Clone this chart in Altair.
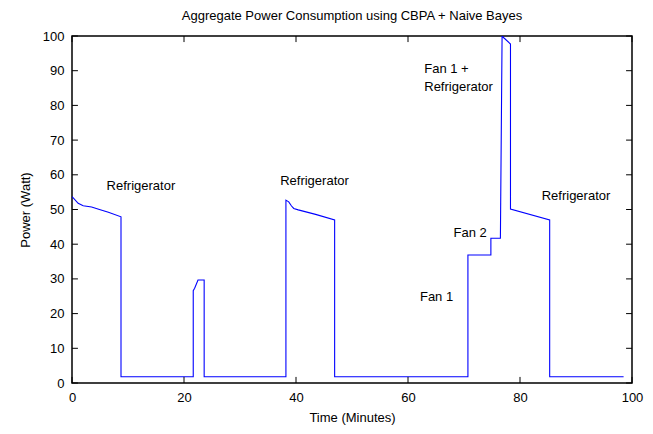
import altair as alt
import pandas as pd

# Line data (time in minutes, power in watts)
time_min = [0, 0.3, 1.1, 2.0, 3.5, 4.9, 6.5, 8.75, 8.75, 21.65, 21.65, 21.9, 22.5, 23.6, 23.6,
            38.2, 38.2, 38.7, 39.2, 39.6, 40.4, 43.5, 46.9, 46.9, 70.7, 70.7, 74.8, 74.8,
            76.5, 76.8, 77.1, 78.3, 78.3, 85.3, 85.3, 98.5]
power_w = [53.7, 53.2, 51.8, 51.1, 50.7, 50.0, 49.2, 47.9, 1.8, 1.8, 26.6, 27.3, 29.7, 29.7, 1.8,
           1.8, 52.7, 52.2, 51.0, 50.3, 49.9, 48.6, 47.0, 1.8, 1.8, 36.9, 36.9, 41.7,
           41.7, 100, 99.5, 97.7, 50.1, 47.0, 1.8, 1.8]

# Annotations
ann_text = ["Refrigerator", "Refrigerator", "Fan 1 +", "Refrigerator", "Fan 2", "Fan 1", "Refrigerator"]
ann_t = [12.3, 43.3, 62.9, 62.9, 71.1, 65.1, 90.0]
ann_p = [56.8, 58.2, 90.5, 85.3, 43.2, 24.8, 53.9]
ann_align = ["center", "center", "left", "left", "center", "center", "center"]

x_ticks = [0, 20, 40, 60, 80, 100]
y_ticks = [0, 10, 20, 30, 40, 50, 60, 70, 80, 90, 100]

FONT = "Liberation Sans"

line_df = pd.DataFrame({"t": time_min, "p": power_w, "i": range(len(time_min))})
ann_df = pd.DataFrame({"label": ann_text, "t": ann_t, "p": ann_p, "align": ann_align})

xs = alt.Scale(domain=[0, 100], nice=False, zero=False)
ys = alt.Scale(domain=[0, 100], nice=False, zero=False)

ax_x = dict(values=x_ticks, tickSize=0, domain=False, grid=False, labelPadding=8,
            labelFontSize=13, labelFont=FONT, labelColor="black", labelFlush=False,
            labelOverlap=False,
            title="Time (Minutes)", titleFontSize=13, titleFont=FONT,
            titleFontWeight="normal", titlePadding=7, titleColor="black")
ax_y = dict(values=y_ticks, tickSize=0, domain=False, grid=False, labelPadding=8,
            labelFontSize=13, labelFont=FONT, labelColor="black", labelFlush=False,
            labelOverlap=False,
            title="Power (Watt)", titleFontSize=13, titleFont=FONT,
            titleFontWeight="normal", titlePadding=10, titleColor="black")


def X(field):
    return alt.X(field, type="quantitative", scale=xs, axis=alt.Axis(**ax_x))


def Y(field):
    return alt.Y(field, type="quantitative", scale=ys, axis=alt.Axis(**ax_y))


line = alt.Chart(line_df).mark_line(color="#0000ff", strokeWidth=1.1, clip=True).encode(
    x=X("t"), y=Y("p"), order="i:Q",
)

text_center = alt.Chart(ann_df[ann_df["align"] == "center"]).mark_text(
    font=FONT, fontSize=13, color="black", align="center", baseline="middle"
).encode(x=X("t"), y=Y("p"), text="label:N")

text_left = alt.Chart(ann_df[ann_df["align"] == "left"]).mark_text(
    font=FONT, fontSize=13, color="black", align="left", baseline="middle"
).encode(x=X("t"), y=Y("p"), text="label:N")

# inward ticks (mirrored on all four sides)
xt_df = pd.DataFrame({"v": x_ticks})
yt_df = pd.DataFrame({"v": y_ticks})
tick_len_y = 1.75  # in watts
tick_len_x = 1.06  # in minutes

xt_bottom = alt.Chart(xt_df).transform_calculate(a="0", b=str(tick_len_y)).mark_rule(
    color="black", strokeWidth=1).encode(x=X("v"), y=Y("a"), y2="b:Q")
xt_top = alt.Chart(xt_df).transform_calculate(a="100", b=str(100 - tick_len_y)).mark_rule(
    color="black", strokeWidth=1).encode(x=X("v"), y=Y("a"), y2="b:Q")
yt_left = alt.Chart(yt_df).transform_calculate(a="0", b=str(tick_len_x)).mark_rule(
    color="black", strokeWidth=1).encode(y=Y("v"), x=X("a"), x2="b:Q")
yt_right = alt.Chart(yt_df).transform_calculate(a="100", b=str(100 - tick_len_x)).mark_rule(
    color="black", strokeWidth=1).encode(y=Y("v"), x=X("a"), x2="b:Q")

chart = alt.layer(line, text_center, text_left, xt_bottom, xt_top, yt_left, yt_right).properties(
    width=560, height=347,
    title=alt.TitleParams("Aggregate Power Consumption using CBPA + Naive Bayes",
                          font=FONT, fontSize=13, fontWeight="normal", color="black",
                          anchor="middle", offset=7),
    autosize=alt.AutoSizeParams(type="none"),
    padding={"left": 64, "top": 28, "right": 13, "bottom": 42},
    background="white",
).configure_view(stroke="black", strokeWidth=1.5)

chart.save("out.html", embed_options={"renderer": "svg", "actions": False})
